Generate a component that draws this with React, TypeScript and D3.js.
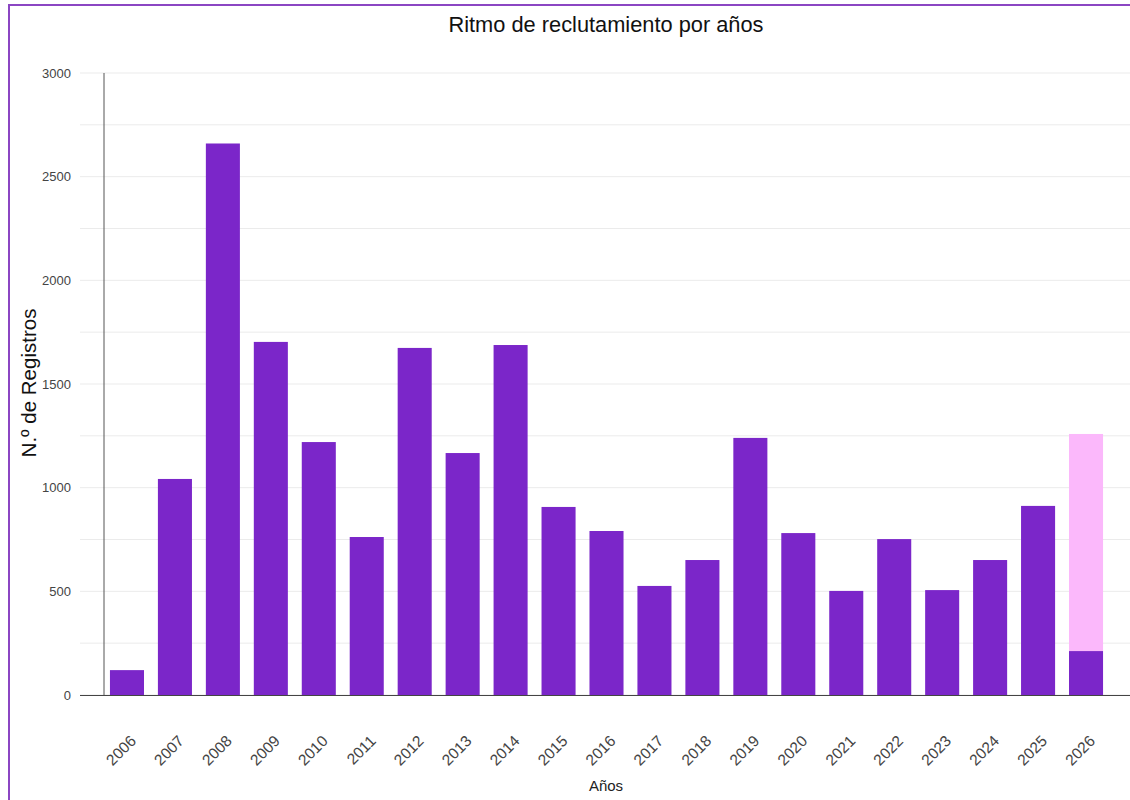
import React from 'react';
import * as d3 from 'd3';

//canvas
const width = 1130;
const height = 800;

// data
const years = ['2006', '2007', '2008', '2009', '2010', '2011', '2012', '2013', '2014', '2015', '2016',
  '2017', '2018', '2019', '2020', '2021', '2022', '2023', '2024', '2025', '2026'];
const registros = [120, 1042, 2660, 1703, 1220, 762, 1674, 1167, 1688, 907, 791,
  526, 651, 1240, 781, 502, 752, 506, 651, 912, 212];
// projected remainder (only the last year)
const proyeccion = [0, 0, 0, 0, 0, 0, 0, 0, 0, 0, 0,
  0, 0, 0, 0, 0, 0, 0, 0, 0, 1047];
const yTicks = [0, 500, 1000, 1500, 2000, 2500, 3000];
const gridTicks = d3.range(0, 3001, 250);

// positions
const plotTop = 73;
const plotBottom = 695;
const gridLeft = 80;
const axisX = 104;

// colours
const barColor = '#7B26C9';
const projColor = '#FBB8FB';
const borderColor = '#8B46C3';
const textColor = '#444';
const font = '"Liberation Sans", Arial, sans-serif';

const x = d3.scaleBand<string>()
  .domain(years)
  .range([103, 1110])
  .paddingInner(0.29)
  .paddingOuter(0.145);

const y = d3.scaleLinear().domain([0, 3000]).range([plotBottom, plotTop]);

const App = () => (
  <div style={{ position: 'absolute', left: 0, top: 0, width, height, background: '#fff' }}>
    <svg width={width} height={height} style={{ display: 'block' }}>
      {/* frame */}
      <rect x={9} y={5} width={1140} height={820} fill="none" stroke={borderColor} strokeWidth={2} />

      <text x={606} y={32} textAnchor="middle" fontFamily={font} fontSize={21.8} fill="#111">
        Ritmo de reclutamiento por años
      </text>

      {/* grid */}
      {gridTicks.map((t) => (
        <line key={t} x1={gridLeft} x2={width} y1={y(t)} y2={y(t)} stroke="#ebebeb" strokeWidth={1} />
      ))}

      {/* bars */}
      {years.map((yr, i) => (
        <g key={yr}>
          <rect
            x={x(yr)}
            y={y(registros[i])}
            width={x.bandwidth()}
            height={y(0) - y(registros[i])}
            fill={barColor}
          />
          {proyeccion[i] > 0 && (
            <rect
              x={x(yr)}
              y={y(registros[i] + proyeccion[i])}
              width={x.bandwidth()}
              height={y(registros[i]) - y(registros[i] + proyeccion[i])}
              fill={projColor}
            />
          )}
        </g>
      ))}

      {/* axes */}
      <line x1={axisX} x2={axisX} y1={plotTop} y2={plotBottom} stroke="#555" strokeWidth={1} />
      <line x1={gridLeft} x2={width} y1={plotBottom + 0.5} y2={plotBottom + 0.5} stroke="#444" strokeWidth={1} />

      {yTicks.map((t) => (
        <text key={t} x={71} y={y(t) + 4.5} textAnchor="end" fontFamily={font} fontSize={13} fill={textColor}>
          {t}
        </text>
      ))}

      {years.map((yr) => {
        const cx = (x(yr) as number) + x.bandwidth() / 2 + 10;
        return (
          <text
            key={yr}
            transform={`translate(${cx},${742}) rotate(-45)`}
            textAnchor="end"
            fontFamily={font}
            fontSize={15.5}
            fill={textColor}
          >
            {yr}
          </text>
        );
      })}

      <text x={606} y={791} textAnchor="middle" fontFamily={font} fontSize={15} fill="#222">
        Años
      </text>
      <text
        transform={`translate(36,383) rotate(-90)`}
        textAnchor="middle"
        fontFamily={font}
        fontSize={20.5}
        fill="#111"
      >
        N.º de Registros
      </text>
    </svg>
  </div>
);

export default App;
